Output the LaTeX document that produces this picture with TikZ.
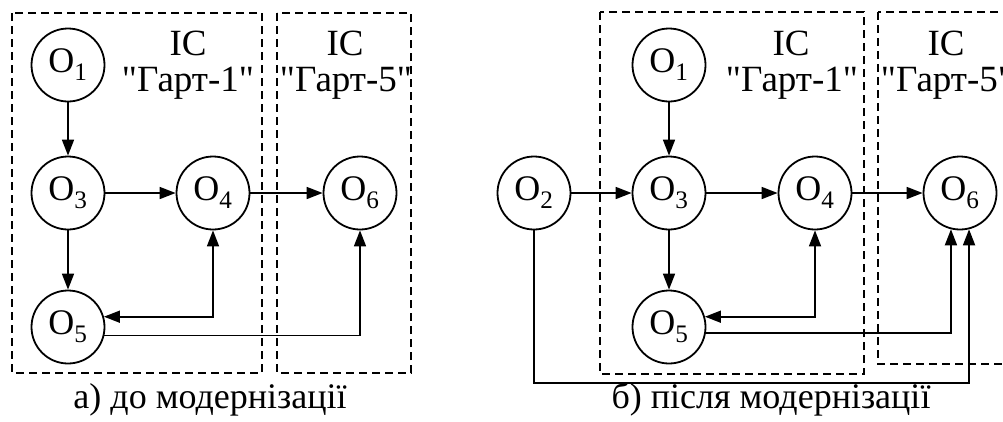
\documentclass[tikz,border=0pt]{standalone}
\usepackage{fontspec}
\setmainfont{Liberation Serif}[Ligatures=TeXOff]
\usetikzlibrary{arrows.meta}
\tikzset{
  >={Triangle[length=16pt,width=12pt]},
  obj/.style={circle, draw, line width=1.8pt, minimum size=73pt, inner sep=0pt,
              font=\fontsize{36}{40}\selectfont},
  zone/.style={draw, line width=1.7pt, dash pattern=on 8pt off 5pt},
  link/.style={line width=1.7pt, ->},
  twoway/.style={line width=1.7pt, <->},
  txt/.style={inner sep=0pt, anchor=base, font=\fontsize{37}{42}\selectfont},
  captext/.style={inner sep=0pt, anchor=base, font=\fontsize{36}{42}\selectfont},
}
\begin{document}
\begin{tikzpicture}[x=1pt, y=-1pt]
\useasboundingbox (0,0) rectangle (1003,421);

% ---------- a) before ----------
\draw[zone] (12,13) rectangle (262,373);
\draw[zone] (277,13) rectangle (411,373);
\node[txt] (ta1) at (188,55) {ІС};
\node[txt] (ta2) at (188,91) {"Гарт-1"};
\node[txt] (ta3) at (345,55) {ІС};
\node[txt] (ta4) at (346,91) {"Гарт-5"};

\node[obj] (a1) at (68,65)  {O\textsubscript{1}};
\node[obj] (a3) at (68,193) {O\textsubscript{3}};
\node[obj] (a4) at (213,193) {O\textsubscript{4}};
\node[obj] (a6) at (360,193) {O\textsubscript{6}};
\node[obj] (a5) at (68,327) {O\textsubscript{5}};

\draw[link] (a1) -- (a3);
\draw[link] (a3) -- (a4);
\draw[link] (a4) -- (a6);
\draw[link] (a3) -- (a5);
\draw[twoway] (a5.16) -| (a4.south);
\draw[link] (a5.-13) -| (a6.south);

\node[captext] (capa) at (210,408) {а) до модернізації};

% ---------- b) after ----------
\draw[zone] (600,12) rectangle (864,374);
\draw[zone] (878,12) rectangle (1015,364);
\node[txt] (tb1) at (791,55) {ІС};
\node[txt] (tb2) at (792,91) {"Гарт-1"};
\node[txt] (tb3) at (946,55) {ІС};
\node[txt] (tb4) at (947,91) {"Гарт-5"};

\node[obj] (b1) at (669,65)  {O\textsubscript{1}};
\node[obj] (b2) at (534,193) {O\textsubscript{2}};
\node[obj] (b3) at (669,193) {O\textsubscript{3}};
\node[obj] (b4) at (815,193) {O\textsubscript{4}};
\node[obj] (b6) at (960,193) {O\textsubscript{6}};
\node[obj] (b5) at (669,327) {O\textsubscript{5}};
\coordinate (low) at (0,383);

\draw[link] (b1) -- (b3);
\draw[link] (b2) -- (b3);
\draw[link] (b3) -- (b4);
\draw[link] (b4) -- (b6);
\draw[link] (b3) -- (b5);
\draw[twoway] (b5.16) -| (b4.south);
\draw[link] (b5.-9) -| (b6.256);
\draw[link] (b2.south) -- (b2.south |- low) -| (b6.284);

\node[captext] (capb) at (771,408) {б) після модернізації};
\end{tikzpicture}
\end{document}
